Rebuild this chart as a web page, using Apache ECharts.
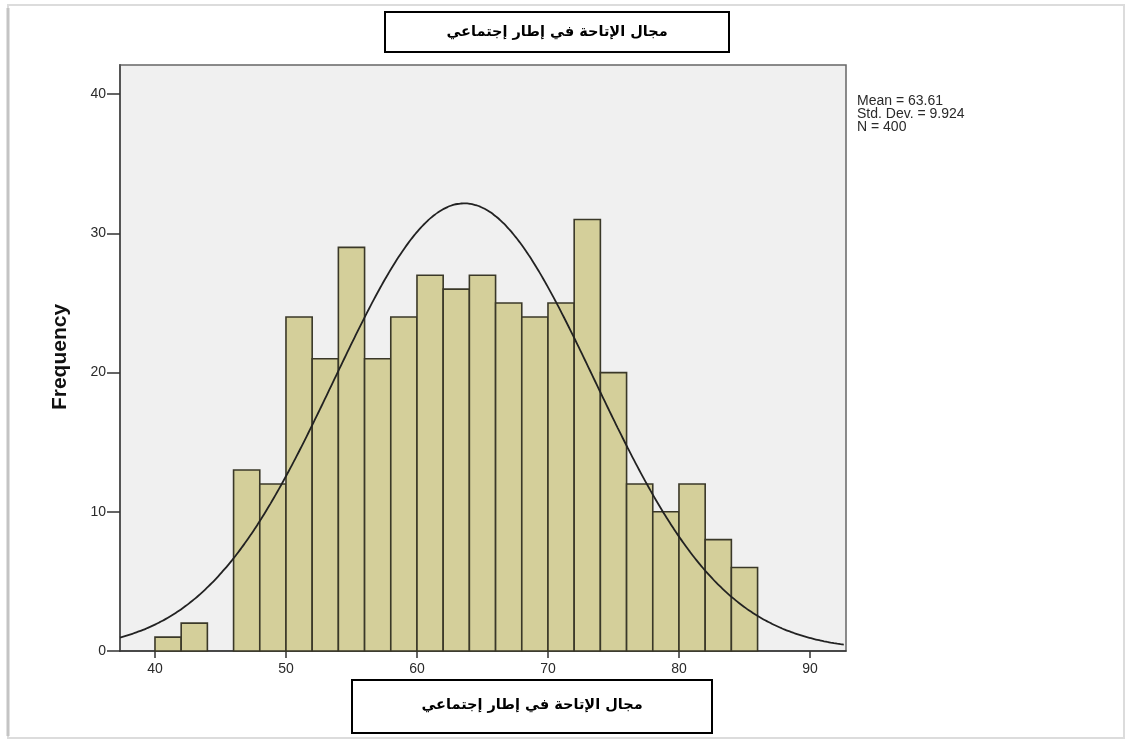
<!DOCTYPE html>
<html>
<head>
<meta charset="utf-8">
<title>Histogram</title>
<script src="https://cdn.jsdelivr.net/npm/echarts@6/dist/echarts.min.js"></script>
<style>
  html, body { margin: 0; padding: 0; background: #ffffff; }
  #chart { width: 1126px; height: 740px; }
</style>
</head>
<body>
<div id="chart"></div>
<script>
// Histogram bins (lower edges) and their frequencies
const binStart = [40, 42, 44, 46, 48, 50, 52, 54, 56, 58, 60, 62, 64, 66, 68, 70, 72, 74, 76, 78, 80, 82, 84];
const frequency = [1, 2, 0, 13, 12, 24, 21, 29, 21, 24, 27, 26, 27, 25, 24, 25, 31, 20, 12, 10, 12, 8, 6];
const binWidth = 2;

// Summary statistics
const mean = 63.61;
const stdDev = 9.924;
const n = 400;

// Axis tick labels
const xTicks = [40, 50, 60, 70, 80, 90];
const yTicks = [0, 10, 20, 30, 40];

const titleText = 'مجال الإتاحة في إطار إجتماعي';
const statsLines = ['Mean = 63.61', 'Std. Dev. = 9.924', 'N = 400'];

const xMin = 37.33, xMax = 92.75;
const yMin = 0, yMax = 42.1;

const barData = binStart.map((s, i) => [s, s + binWidth, frequency[i]]);

// Normal curve scaled to counts: N * binWidth * pdf(x)
const curveData = [];
for (let x = xMin; x <= xMax + 1e-9; x += 0.25) {
  const z = (x - mean) / stdDev;
  const pdf = Math.exp(-0.5 * z * z) / (stdDev * Math.sqrt(2 * Math.PI));
  curveData.push([x, n * binWidth * pdf]);
}

const chart = echarts.init(document.getElementById('chart'), null, { renderer: 'canvas' });

const labelFont = { fontFamily: 'Liberation Sans, Arial, sans-serif', fontSize: 14, color: '#2a2a2a' };

chart.setOption({
  animation: false,
  backgroundColor: '#ffffff',
  grid: {
    left: 120, right: 280, top: 65, bottom: 89,
    show: true,
    backgroundColor: '#f0f0f0',
    borderColor: '#666666',
    borderWidth: 1.5
  },
  xAxis: {
    type: 'value',
    min: xMin, max: xMax,
    axisLine: { show: true, lineStyle: { color: '#333333', width: 1.5 } },
    axisTick: { show: true, length: 7, customValues: xTicks, lineStyle: { color: '#333333', width: 1.5 } },
    axisLabel: Object.assign({ customValues: xTicks, margin: 11 }, labelFont),
    splitLine: { show: false }
  },
  yAxis: {
    type: 'value',
    min: yMin, max: yMax,
    axisLine: { show: true, lineStyle: { color: '#555555', width: 2 } },
    axisTick: { show: true, length: 13, customValues: yTicks, lineStyle: { color: '#333333', width: 1.5 } },
    axisLabel: Object.assign({ customValues: yTicks, margin: 14 }, labelFont),
    splitLine: { show: false }
  },
  series: [
    {
      type: 'custom',
      data: barData,
      encode: { x: [0, 1], y: 2 },
      z: 2,
      renderItem: function (params, api) {
        const x0 = api.value(0), x1 = api.value(1), v = api.value(2);
        if (!v) return null;
        const p0 = api.coord([x0, v]);
        const p1 = api.coord([x1, 0]);
        return {
          type: 'rect',
          shape: { x: p0[0], y: p0[1], width: p1[0] - p0[0], height: p1[1] - p0[1] },
          style: { fill: '#d4cf9a', stroke: '#3a3828', lineWidth: 1.6 }
        };
      }
    },
    {
      type: 'line',
      data: curveData,
      showSymbol: false,
      smooth: true,
      z: 3,
      lineStyle: { color: '#222222', width: 1.8 }
    }
  ],
  graphic: [
    // page frame
    { type: 'rect', shape: { x: 8, y: 5, width: 1116, height: 733 }, style: { fill: 'none', stroke: '#dcdcdc', lineWidth: 2 }, z: 0 },
    { type: 'line', shape: { x1: 8, y1: 8, x2: 8, y2: 736 }, style: { stroke: '#c4c4c4', lineWidth: 3 }, z: 0 },
    // title box
    { type: 'rect', shape: { x: 385, y: 12, width: 344, height: 40 }, style: { fill: '#ffffff', stroke: '#000000', lineWidth: 2 }, z: 10 },
    { type: 'text', x: 557, y: 32, style: { text: titleText, fontFamily: 'DejaVu Sans, sans-serif', fontWeight: 'bold', fontSize: 14.5, fill: '#000000', align: 'center', verticalAlign: 'middle' }, z: 11 },
    // axis title box
    { type: 'rect', shape: { x: 352, y: 680, width: 360, height: 53 }, style: { fill: '#ffffff', stroke: '#000000', lineWidth: 2 }, z: 10 },
    { type: 'text', x: 532, y: 705, style: { text: titleText, fontFamily: 'DejaVu Sans, sans-serif', fontWeight: 'bold', fontSize: 14.5, fill: '#000000', align: 'center', verticalAlign: 'middle' }, z: 11 },
    // y axis title
    { type: 'text', x: 60, y: 357, rotation: Math.PI / 2, style: { text: 'Frequency', fontFamily: 'Liberation Sans, Arial, sans-serif', fontWeight: 'bold', fontSize: 21, fill: '#111111', align: 'center', verticalAlign: 'middle' }, z: 11 },
    // statistics
    { type: 'text', x: 857, y: 95, style: { text: statsLines.join('\n'), fontFamily: 'Liberation Sans, Arial, sans-serif', fontSize: 14, lineHeight: 13, fill: '#2a2a2a', align: 'left', verticalAlign: 'top' }, z: 11 }
  ]
});
</script>
</body>
</html>
